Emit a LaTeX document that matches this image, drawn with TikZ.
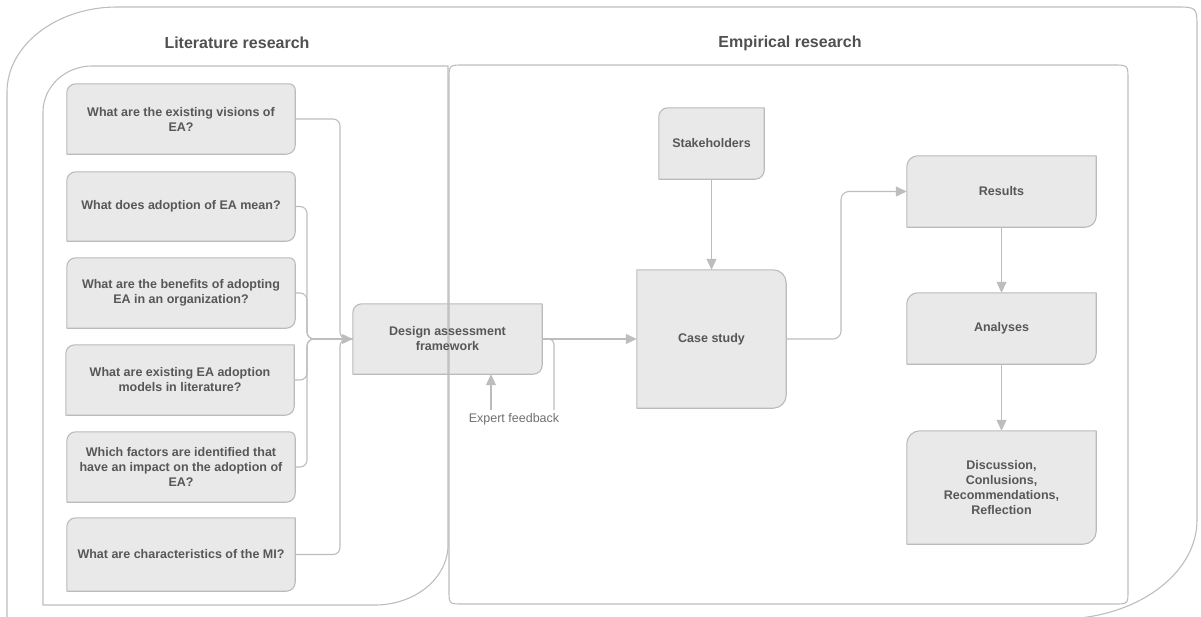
\documentclass[tikz,border=0pt]{standalone}
\usepackage{fontspec}
\setmainfont{Liberation Sans}
\usetikzlibrary{calc,arrows.meta,backgrounds}

\definecolor{linegray}{HTML}{BDBDBD}
\definecolor{boxfill}{HTML}{E9E9E9}
\definecolor{boxedge}{HTML}{BBBBBB}
\definecolor{txtgray}{HTML}{575757}
\definecolor{titlegray}{HTML}{505050}

% outline of a sketched box: radii of the corners NW, NE, SE, SW
\newcommand{\skbox}[5]{%
  \draw[boxline]
    ($(#1.north west)+(0,#2)$) .. controls ($(#1.north west)+(0,#2*0.45)$) and ($(#1.north west)+(#2*0.45,0)$) .. ($(#1.north west)+(#2,0)$)
    -- ($(#1.north east)+(-#3,0)$) .. controls ($(#1.north east)+(-#3*0.45,0)$) and ($(#1.north east)+(0,#3*0.45)$) .. ($(#1.north east)+(0,#3)$)
    -- ($(#1.south east)+(0,-#4)$) .. controls ($(#1.south east)+(0,-#4*0.45)$) and ($(#1.south east)+(-#4*0.45,0)$) .. ($(#1.south east)+(-#4,0)$)
    -- ($(#1.south west)+(#5,0)$) .. controls ($(#1.south west)+(#5*0.45,0)$) and ($(#1.south west)+(0,-#5*0.45)$) .. ($(#1.south west)+(0,-#5)$)
    -- cycle;}

\begin{document}
\begin{tikzpicture}[x=1pt,y=-1pt,
  boxline/.style={draw=boxedge,fill=boxfill,line width=1.1pt,line join=round},
  frame/.style={draw=linegray,line width=1.1pt},
  box/.style={shape=rectangle,inner sep=0pt,align=center,text=txtgray,
    font=\bfseries\fontsize{12.5}{15}\selectfont},
  qbox/.style={box,minimum width=228pt,minimum height=70pt},
  conn/.style={draw=linegray,line width=1.1pt},
  arrow/.style={conn,-{Triangle[length=11pt,width=10pt]}},
  heading/.style={text=titlegray,font=\bfseries\fontsize{16}{19}\selectfont},
  note/.style={text=txtgray!85,font=\fontsize{12.5}{15}\selectfont}]

\useasboundingbox (0,0) rectangle (1201,616);

% outer frame (its bottom edge runs just below the page)
\draw[frame] (7,622) -- (7,92)
  .. controls ($(7,92)!0.55!(7,7)$) and ($(117,7)!0.55!(7,7)$) .. (117,7)
  -- (1175,7) .. controls (1197,7) .. (1197,29)
  -- (1197,520)
  .. controls ($(1197,520)!0.55!(1197,619)$) and ($(1060,619)!0.55!(1197,619)$) .. (1060,619)
  -- (0,619);

% literature research area
\draw[frame] (43,605) -- (43,112)
  .. controls ($(43,112)!0.55!(43,66)$) and ($(92,66)!0.55!(43,66)$) .. (92,66)
  -- (448,66) -- (448,545)
  .. controls ($(448,545)!0.55!(448,605)$) and ($(375,605)!0.55!(448,605)$) .. (375,605)
  -- cycle;

% empirical research area
\draw[frame] (449,80) .. controls (449,65) .. (464,65)
  -- (1113,65) .. controls (1128,65) .. (1128,80)
  -- (1128,590) .. controls (1128,604) .. (1114,604)
  -- (463,604) .. controls (449,604) .. (449,590) -- cycle;

\node[heading] (tlit) at (237,43) {Literature research};
\node[heading] (temp) at (790,43) {Empirical research};

% research questions
\node[qbox] (q1) at (181,119)   {What are the existing visions of\\EA?};
\node[qbox,minimum height=69pt] (q2) at (181,206.5) {What does adoption of EA mean?};
\node[qbox] (q3) at (181,293)   {What are the benefits of adopting\\EA in an organization?};
\node[qbox] (q4) at (180,380)   {What are existing EA adoption\\models in literature?};
\node[qbox] (q5) at (181,467)   {Which factors are identified that\\have an impact on the adoption of\\EA?};
\node[qbox,minimum height=73pt] (q6) at (181,554.5) {What are characteristics of the MI?};

\node[box,minimum width=189pt,minimum height=70pt] (design) at (447.5,339) {Design assessment\\framework};
\node[note] (fb) at (514,419) {Expert feedback};

\node[box,minimum width=105pt,minimum height=71pt] (stake) at (711.5,143.5) {Stakeholders};
\node[box,minimum width=149pt,minimum height=138pt] (case) at (711.5,339) {Case study};
\node[box,minimum width=189pt,minimum height=71pt] (results) at (1001.5,191.5) {Results};
\node[box,minimum width=189pt,minimum height=71pt] (analyses) at (1001.5,328.5) {Analyses};
\node[box,minimum width=189pt,minimum height=113pt] (disc) at (1001.5,487.5)
  {Discussion,\\Conlusions,\\Recommendations,\\Reflection};

\begin{scope}[on background layer]
  \skbox{q1}{9}{6}{9}{0}
  \skbox{q2}{9}{6}{9}{0}
  \skbox{q3}{9}{6}{9}{0}
  \skbox{q4}{9}{0}{9}{0}
  \skbox{q5}{9}{6}{9}{0}
  \skbox{q6}{9}{0}{9}{0}
  \skbox{design}{9}{0}{9}{0}
  \skbox{stake}{9}{0}{9}{0}
  \skbox{case}{0}{13}{13}{0}
  \skbox{results}{11}{0}{11}{0}
  \skbox{analyses}{11}{0}{11}{0}
  \skbox{disc}{13}{0}{13}{0}
\end{scope}

% questions feed the framework
\coordinate (busA) at (340,339);
\coordinate (busB) at (307,339);
\coordinate (join) at (336,339);
\draw[conn,rounded corners=7pt] (q1.east) -| (busA) -- (design.west);
\draw[conn,rounded corners=7pt] (q6.east) -| (busA) -- (design.west);
\draw[conn,rounded corners=7pt] (q2.east) -| (busB) -- (design.west);
\draw[conn,rounded corners=7pt] (q3.east) -| (busB) -- (design.west);
\draw[conn,rounded corners=7pt] (q4.east) -| (busB) -- (design.west);
\draw[conn,rounded corners=7pt] (q5.east) -| (busB) -- (design.west);
\draw[arrow] (join) -- (design.west);

% framework to case study, with expert feedback loop
\draw[arrow] (design.east) -- (case.west);
\coordinate (fbR) at (554,410);
\draw[conn,rounded corners=5pt] (design.east) -| (fbR);
\coordinate (fbA) at (491,410);
\draw[arrow] (fbA) -- (fbA |- design.south);

% empirical flow
\draw[arrow] (stake.south) -- (case.north);
\coordinate (bend) at (841,339);
\draw[arrow,rounded corners=8pt] (case.east) -- (bend) |- (results.west);
\draw[arrow] (results.south) -- (analyses.north);
\draw[arrow] (analyses.south) -- (disc.north);

\end{tikzpicture}
\end{document}
